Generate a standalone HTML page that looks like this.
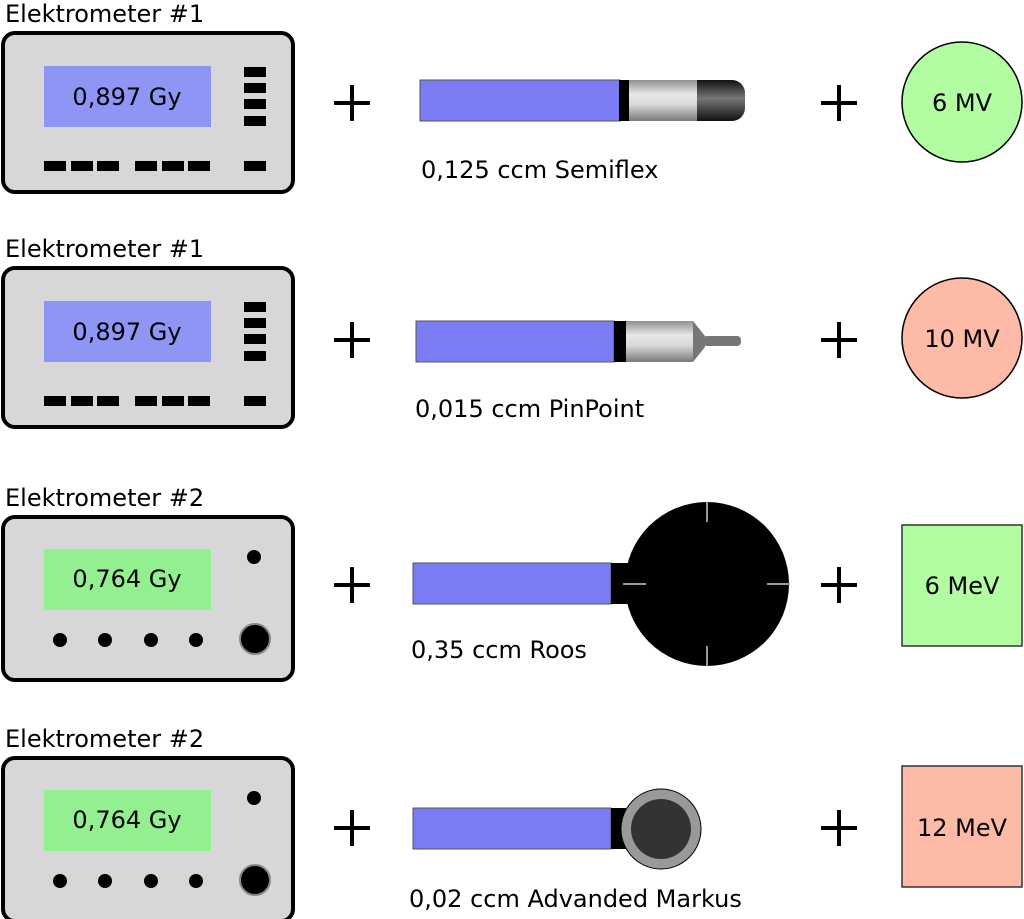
<!DOCTYPE html>
<html><head><meta charset="utf-8"><style>
html,body{margin:0;padding:0;background:#fff;}
svg{display:block;font-family:"DejaVu Sans","Liberation Sans",sans-serif;}
</style></head><body>
<svg width="1024" height="919" viewBox="0 0 1024 919" xmlns="http://www.w3.org/2000/svg">
<defs>
<linearGradient id="lg" x1="0" y1="0" x2="0" y2="1">
<stop offset="0" stop-color="#909090"/><stop offset="0.35" stop-color="#e8e8e8"/><stop offset="0.6" stop-color="#d8d8d8"/><stop offset="1" stop-color="#7a7a7a"/></linearGradient>
<linearGradient id="dg" x1="0" y1="0" x2="0" y2="1">
<stop offset="0" stop-color="#111"/><stop offset="0.45" stop-color="#777"/><stop offset="1" stop-color="#111"/></linearGradient>
<g id="el1">
<rect x="3" y="2" width="290" height="159" rx="12" fill="#d7d7d7" stroke="#000" stroke-width="4"/>
<rect x="44" y="35" width="167" height="61" fill="#8f95f5"/>
<rect x="244" y="36" width="22" height="10" fill="#000"/>
<rect x="244" y="52" width="22" height="10" fill="#000"/>
<rect x="244" y="68" width="22" height="10" fill="#000"/>
<rect x="244" y="85" width="22" height="10" fill="#000"/>
<rect x="44" y="130" width="22" height="10" fill="#000"/>
<rect x="71" y="130" width="22" height="10" fill="#000"/>
<rect x="97" y="130" width="22" height="10" fill="#000"/>
<rect x="135" y="130" width="22" height="10" fill="#000"/>
<rect x="162" y="130" width="22" height="10" fill="#000"/>
<rect x="188" y="130" width="22" height="10" fill="#000"/>
<rect x="244" y="130" width="22" height="10" fill="#000"/>
</g>
<g id="el2">
<rect x="3" y="2" width="290" height="163" rx="12" fill="#d7d7d7" stroke="#000" stroke-width="4"/>
<rect x="44" y="34" width="167" height="61" fill="#92f090"/>
<circle cx="254" cy="42" r="7" fill="#000"/>
<circle cx="60" cy="125" r="7" fill="#000"/>
<circle cx="105" cy="125" r="7" fill="#000"/>
<circle cx="151" cy="125" r="7" fill="#000"/>
<circle cx="196" cy="125" r="7" fill="#000"/>
<circle cx="255" cy="124" r="15" fill="#000" stroke="#888" stroke-width="2"/>
</g>
<g id="plus"><rect x="-18" y="-2" width="36" height="4" fill="#000"/><rect x="-2" y="-18" width="4" height="36" fill="#000"/></g>
</defs>

<g font-size="24" fill="#000">
<text x="5" y="22">Elektrometer #1</text>
<text x="5" y="257">Elektrometer #1</text>
<text x="5" y="506">Elektrometer #2</text>
<text x="5" y="747">Elektrometer #2</text>
</g>

<use href="#el1" x="0" y="31"/>
<use href="#el1" x="0" y="266"/>
<use href="#el2" x="0" y="515"/>
<use href="#el2" x="0" y="756"/>

<g font-size="24" text-anchor="middle">
<text x="127" y="105">0,897 Gy</text>
<text x="127" y="340">0,897 Gy</text>
<text x="127" y="587">0,764 Gy</text>
<text x="127" y="828">0,764 Gy</text>
</g>

<use href="#plus" x="352" y="103"/>
<use href="#plus" x="352" y="340"/>
<use href="#plus" x="352" y="585"/>
<use href="#plus" x="352" y="828"/>
<use href="#plus" x="839" y="103"/>
<use href="#plus" x="839" y="340"/>
<use href="#plus" x="839" y="585"/>
<use href="#plus" x="839" y="828"/>

<!-- Semiflex -->
<rect x="420" y="80" width="200" height="41" fill="#7b7bf3" stroke="#555" stroke-width="1"/>
<rect x="619" y="80" width="10" height="41" fill="#000"/>
<rect x="629" y="80" width="68" height="41" fill="url(#lg)"/>
<path d="M697 80 H732 A13 13 0 0 1 745 93 V108 A13 13 0 0 1 732 121 H697 Z" fill="url(#dg)"/>
<text x="421" y="178" font-size="24">0,125 ccm Semiflex</text>

<!-- PinPoint -->
<rect x="416" y="321" width="198" height="41" fill="#7b7bf3" stroke="#555" stroke-width="1"/>
<rect x="614" y="321" width="12" height="41" fill="#000"/>
<rect x="626" y="321" width="67" height="41" fill="url(#lg)"/>
<path d="M693 321 L705 336 V347 L693 362 Z" fill="#777"/>
<rect x="703" y="336" width="38" height="10" rx="4" fill="#777"/>
<text x="415" y="417" font-size="24">0,015 ccm PinPoint</text>

<!-- Roos -->
<rect x="413" y="563" width="198" height="41" fill="#7b7bf3" stroke="#555" stroke-width="1"/>
<rect x="611" y="563" width="20" height="41" fill="#000"/>
<circle cx="707" cy="584" r="82" fill="#000"/>
<g stroke="#999" stroke-width="2">
<line x1="707" y1="502" x2="707" y2="522"/>
<line x1="707" y1="646" x2="707" y2="666"/>
<line x1="623" y1="584" x2="646" y2="584"/>
<line x1="767" y1="584" x2="790" y2="584"/>
</g>
<text x="411" y="658" font-size="24">0,35 ccm Roos</text>

<!-- Markus -->
<rect x="413" y="808" width="198" height="41" fill="#7b7bf3" stroke="#555" stroke-width="1"/>
<rect x="611" y="808" width="15" height="41" fill="#000"/>
<circle cx="661" cy="829" r="40" fill="#999" stroke="#000" stroke-width="1"/>
<circle cx="661" cy="829" r="30" fill="#333"/>
<text x="409" y="907" font-size="24">0,02 ccm Advanded Markus</text>

<!-- energies -->
<circle cx="962" cy="102" r="60" fill="#b2fca2" stroke="#000" stroke-width="1.5"/>
<circle cx="962" cy="338" r="60" fill="#fdbaa6" stroke="#000" stroke-width="1.5"/>
<rect x="902" y="525" width="120" height="121" fill="#b2fca2" stroke="#333" stroke-width="1.5"/>
<rect x="902" y="766" width="120" height="121" fill="#fdbaa6" stroke="#333" stroke-width="1.5"/>
<g font-size="24" text-anchor="middle">
<text x="962" y="111">6 MV</text>
<text x="962" y="347">10 MV</text>
<text x="962" y="594">6 MeV</text>
<text x="962" y="836">12 MeV</text>
</g>
</svg>
</body></html>
